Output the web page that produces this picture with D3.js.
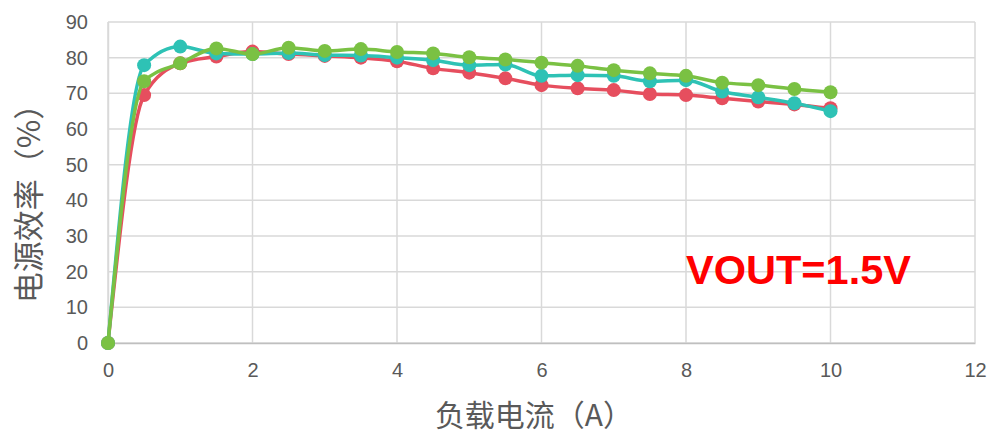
<!DOCTYPE html>
<html>
<head>
<meta charset="utf-8">
<script src="https://cdn.jsdelivr.net/npm/d3@7"></script>
<style>
  html, body { margin: 0; padding: 0; background: #fff; }
  svg { display: block; }
</style>
</head>
<body>
<svg id="chart" width="992" height="437"></svg>
<script>
// Load current (A)
const current = [0, 0.5, 1, 1.5, 2, 2.5, 3, 3.5, 4, 4.5, 5, 5.5, 6, 6.5, 7, 7.5, 8, 8.5, 9, 9.5, 10];
// Efficiency (%) for each curve
const effRed   = [0, 69.5, 78.4, 80.3, 81.7, 81.0, 80.5, 80.0, 79.0, 77.0, 75.8, 74.2, 72.3, 71.4, 70.9, 69.8, 69.5, 68.6, 67.7, 66.9, 65.8];
const effTeal  = [0, 77.9, 83.1, 81.2, 81.0, 81.3, 80.7, 80.6, 80.0, 79.3, 77.9, 78.1, 74.9, 75.1, 74.9, 73.4, 73.7, 70.5, 68.9, 67.2, 65.0];
const effGreen = [0, 73.4, 78.4, 82.6, 81.0, 82.8, 81.9, 82.4, 81.6, 81.2, 80.1, 79.5, 78.6, 77.7, 76.5, 75.6, 74.9, 73.0, 72.3, 71.2, 70.3];
const xTicks = [0, 2, 4, 6, 8, 10, 12];
const yTicks = [0, 10, 20, 30, 40, 50, 60, 70, 80, 90];
const xTitle = "负载电流（A）";
const yTitle = "电源效率（%）";
const note = "VOUT=1.5V";

const series = [
  { values: effRed,   color: "#E64E5E" },
  { values: effTeal,  color: "#2EC2B5" },
  { values: effGreen, color: "#7AC143" }
];

const svg = d3.select("#chart");
const x = d3.scaleLinear().domain([0, 12]).range([108, 975]);
const y = d3.scaleLinear().domain([0, 90]).range([343, 22]);

const font = "'Liberation Sans', Arial, sans-serif";
const cjk = "'Noto Sans CJK SC', sans-serif";
const grid = "#D9D9D9";

// Gridlines
svg.append("g")
  .selectAll("line").data(xTicks).join("line")
  .attr("x1", d => x(d)).attr("x2", d => x(d))
  .attr("y1", y(0)).attr("y2", y(90))
  .attr("stroke", grid).attr("stroke-width", 1.5);
svg.append("g")
  .selectAll("line").data(yTicks).join("line")
  .attr("x1", x(0)).attr("x2", x(12))
  .attr("y1", d => y(d)).attr("y2", d => y(d))
  .attr("stroke", grid).attr("stroke-width", 1.5);

// Axes (tick labels; the grid supplies the lines)
const xAxis = svg.append("g")
  .attr("transform", `translate(0,${y(0)})`)
  .call(d3.axisBottom(x).tickValues(xTicks).tickSize(0).tickPadding(20).tickFormat(d3.format("d")));
xAxis.select(".domain").attr("stroke", "#BFBFBF").attr("stroke-width", 1.5);
xAxis.selectAll("text").attr("font-family", font).attr("font-size", 20).attr("fill", "#595959");

const yAxis = svg.append("g")
  .attr("transform", `translate(${x(0)},0)`)
  .call(d3.axisLeft(y).tickValues(yTicks).tickSize(0).tickPadding(20).tickFormat(d3.format("d")));
yAxis.select(".domain").attr("stroke", grid).attr("stroke-width", 1.5);
yAxis.selectAll("text").attr("font-family", font).attr("font-size", 20).attr("fill", "#595959");

// Axis titles
svg.append("text")
  .attr("x", 534).attr("y", 426)
  .attr("text-anchor", "middle")
  .attr("font-family", cjk)
  .attr("font-size", 30).attr("fill", "#595959")
  .text(xTitle);
svg.append("text")
  .attr("transform", "translate(40,196) rotate(-90)")
  .attr("text-anchor", "middle")
  .attr("font-family", cjk)
  .attr("font-size", 31).attr("fill", "#595959")
  .text(yTitle);

// Curves and markers
const line = d3.line()
  .x((d, i) => x(current[i]))
  .y(d => y(d))
  .curve(d3.curveMonotoneX);

series.forEach(s => {
  const g = svg.append("g");
  g.append("path")
    .attr("d", line(s.values))
    .attr("fill", "none")
    .attr("stroke", s.color)
    .attr("stroke-width", 3.5);
  g.selectAll("circle").data(s.values).join("circle")
    .attr("cx", (d, i) => x(current[i]))
    .attr("cy", d => y(d))
    .attr("r", 7)
    .attr("fill", s.color);
});

// Annotation
svg.append("text")
  .attr("x", 686).attr("y", 284)
  .attr("font-family", font)
  .attr("font-weight", "bold")
  .attr("font-size", 41)
  .attr("textLength", 225)
  .attr("lengthAdjust", "spacingAndGlyphs")
  .attr("fill", "#FF0000")
  .text(note);
</script>
</body>
</html>
